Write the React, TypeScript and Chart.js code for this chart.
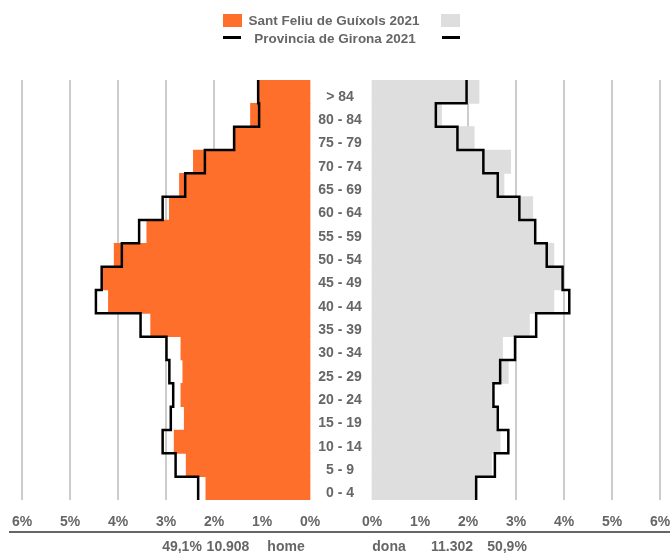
import React, { useEffect, useRef } from 'react';
import { Chart, registerables } from 'chart.js';

Chart.register(...registerables);

// ---------- data (index 0 = youngest group, drawn at the bottom) ----------
const ageGroups = [
  '0 - 4', '5 - 9', '10 - 14', '15 - 19', '20 - 24', '25 - 29', '30 - 34', '35 - 39', '40 - 44',
  '45 - 49', '50 - 54', '55 - 59', '60 - 64', '65 - 69', '70 - 74', '75 - 79', '80 - 84', '> 84',
];
const menLocal = [2.17, 2.58, 2.83, 2.62, 2.69, 2.65, 2.69, 3.32, 4.2, 4.31, 4.08, 3.4, 2.93, 2.72, 2.43, 1.6, 1.24, 1.06];
const menProvince = [2.33, 2.8, 3.07, 2.9, 2.85, 2.93, 2.99, 3.53, 4.46, 4.34, 3.92, 3.56, 3.07, 2.6, 2.19, 1.58, 1.06, 1.08];
const womenLocal = [2.15, 2.49, 2.67, 2.58, 2.49, 2.84, 2.72, 3.28, 3.79, 3.93, 3.79, 3.4, 3.35, 2.75, 2.89, 2.13, 1.45, 2.23];
const womenProvince = [2.17, 2.56, 2.84, 2.62, 2.53, 2.67, 2.98, 3.42, 4.11, 3.97, 3.64, 3.4, 3.07, 2.62, 2.32, 1.78, 1.33, 1.97];
const tickPercents = [0, 1, 2, 3, 4, 5, 6];
const legendLocal = 'Sant Feliu de Guíxols 2021';
const legendProvince = 'Provincia de Girona 2021';
const menTotals = ['49,1%', '10.908', 'home'];
const womenTotals = ['dona', '11.302', '50,9%'];

// ---------- styling ----------
const GAP = 31 / 48; // half of the central label gap, in axis units
const MAXP = 6;
const FONT = "'Liberation Sans', Arial, sans-serif";
const TEXT = '#666666';
const ORANGE = '#ff6f2c';
const LIGHT = '#dedede';
const GRID = '#cccccc';

function stepPoints(values: number[], side: number) {
  const pts: { x: number; y: number }[] = [];
  for (let i = values.length - 1; i >= 0; i--) {
    const x = side * (GAP + values[i]);
    pts.push({ x, y: i + 0.5 });
    pts.push({ x, y: i - 0.5 });
  }
  return pts;
}

const decor = {
  id: 'decor',
  afterDatasetsDraw(chart: any) {
    const { ctx, scales } = chart;
    const x = scales.x;
    const y = scales.y;
    ctx.save();
    ctx.fillStyle = TEXT;
    ctx.font = `bold 14px ${FONT}`;
    ctx.textAlign = 'center';
    ctx.textBaseline = 'middle';
    const midX = x.getPixelForValue(0) - 1;
    ageGroups.forEach((lab, i) => {
      ctx.fillText(lab, midX, y.getPixelForValue(i) + 5);
    });
    ctx.restore();
  },
  afterDraw(chart: any) {
    const { ctx } = chart;
    ctx.save();
    // legend row 1
    ctx.fillStyle = ORANGE;
    ctx.fillRect(223, 14, 19, 13);
    ctx.fillStyle = LIGHT;
    ctx.fillRect(441, 14, 19, 13);
    ctx.fillStyle = TEXT;
    ctx.font = `bold 13.5px ${FONT}`;
    ctx.textAlign = 'center';
    ctx.textBaseline = 'middle';
    ctx.fillText(legendLocal, 334, 21);
    ctx.fillText(legendProvince, 335, 39);
    // legend row 2 markers
    ctx.strokeStyle = '#000000';
    ctx.lineWidth = 3;
    ctx.beginPath();
    ctx.moveTo(223, 37.5);
    ctx.lineTo(241, 37.5);
    ctx.moveTo(442, 37.5);
    ctx.lineTo(460, 37.5);
    ctx.stroke();
    // axis rule under tick labels
    ctx.strokeStyle = '#666666';
    ctx.lineWidth = 2;
    ctx.beginPath();
    ctx.moveTo(9, 532);
    ctx.lineTo(670, 532);
    ctx.stroke();
    // totals
    ctx.fillStyle = TEXT;
    ctx.font = `bold 14px ${FONT}`;
    const menX = [182, 228, 286];
    const womenX = [389, 452, 507];
    menTotals.forEach((t, i) => ctx.fillText(t, menX[i], 547));
    womenTotals.forEach((t, i) => ctx.fillText(t, womenX[i], 547));
    ctx.restore();
  },
};

export default function App() {
  const canvasRef = useRef<HTMLCanvasElement | null>(null);

  useEffect(() => {
    if (!canvasRef.current) return;
    const tickValues = [
      ...tickPercents.slice().reverse().map((p) => -(GAP + p)),
      ...tickPercents.map((p) => GAP + p),
    ];
    const chart = new Chart(canvasRef.current, {
      type: 'bar',
      data: {
        datasets: [
          {
            type: 'line',
            label: legendProvince + ' home',
            data: stepPoints(menProvince, -1),
            borderColor: '#000000',
            borderWidth: 2.5,
            pointRadius: 0,
            fill: false,
            tension: 0,
            order: 0,
          } as any,
          {
            type: 'line',
            label: legendProvince + ' dona',
            data: stepPoints(womenProvince, 1),
            borderColor: '#000000',
            borderWidth: 2.5,
            pointRadius: 0,
            fill: false,
            tension: 0,
            order: 0,
          } as any,
          {
            type: 'bar',
            label: legendLocal + ' home',
            data: menLocal.map((v, i) => ({ y: i, x: [-(GAP + v), -GAP] })),
            backgroundColor: ORANGE,
            borderWidth: 0,
            barPercentage: 1,
            categoryPercentage: 1,
            grouped: false,
            order: 1,
          } as any,
          {
            type: 'bar',
            label: legendLocal + ' dona',
            data: womenLocal.map((v, i) => ({ y: i, x: [GAP, GAP + v] })),
            backgroundColor: LIGHT,
            borderWidth: 0,
            barPercentage: 1,
            categoryPercentage: 1,
            grouped: false,
            order: 1,
          } as any,
        ],
      },
      options: {
        indexAxis: 'y',
        responsive: false,
        animation: false,
        devicePixelRatio: 1,
        layout: { padding: { top: 80, left: 22, right: 10, bottom: 0 } },
        plugins: { legend: { display: false }, tooltip: { enabled: false } },
        scales: {
          x: {
            type: 'linear',
            min: -(GAP + MAXP),
            max: GAP + MAXP,
            afterBuildTicks: (scale: any) => {
              scale.ticks = tickValues.map((v) => ({ value: v }));
            },
            afterFit: (scale: any) => {
              scale.height = 53;
              scale.paddingLeft = 0;
              scale.paddingRight = 0;
            },
            grid: {
              drawTicks: false,
              lineWidth: 2,
              color: (c: any) =>
                c.tick && Math.abs(Math.abs(c.tick.value) - GAP) < 1e-6 ? 'rgba(0,0,0,0)' : GRID,
            },
            border: { display: false },
            ticks: {
              autoSkip: false,
              maxRotation: 0,
              padding: 14,
              color: TEXT,
              font: { family: FONT, size: 14, weight: 'bold' },
              callback: (v: any) => Math.round(Math.abs(Number(v)) - GAP) + '%',
            },
          },
          y: {
            type: 'linear',
            offset: false,
            min: -0.5,
            max: ageGroups.length - 0.5,
            display: false,
          },
        },
      } as any,
      plugins: [decor],
    });
    return () => chart.destroy();
  }, []);

  return (
    <div style={{ position: 'fixed', left: 0, top: 0, width: 670, height: 553, background: '#ffffff' }}>
      <canvas ref={canvasRef} width={670} height={553} style={{ display: 'block', width: 670, height: 553 }} />
    </div>
  );
}
